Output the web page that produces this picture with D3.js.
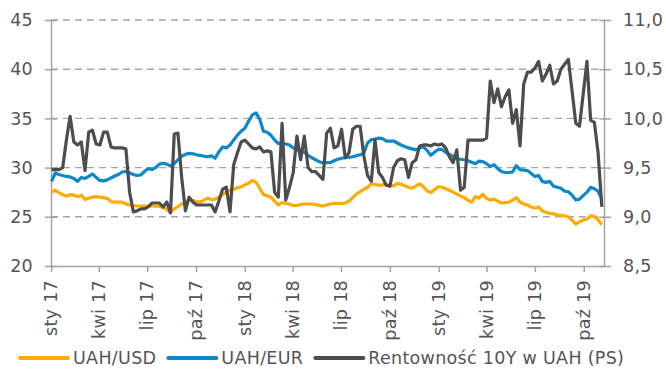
<!DOCTYPE html>
<html>
<head>
<meta charset="utf-8">
<script src="https://cdn.jsdelivr.net/npm/d3@7"></script>
<style>
  body { margin: 0; background: #fff; }
  svg { display: block; }
  text { font-family: "DejaVu Sans", Verdana, sans-serif; fill: #555555; letter-spacing: 0.3px; }
</style>
</head>
<body>
<svg id="chart" width="666" height="372"></svg>
<script>
// Weekly observations, first week starting on this date
const firstWeek = "2017-01-02";

// Quarterly tick marks on the time axis and their labels
const tickDates = ["2017-01-01","2017-04-01","2017-07-01","2017-10-01",
                   "2018-01-01","2018-04-01","2018-07-01","2018-10-01",
                   "2019-01-01","2019-04-01","2019-07-01","2019-10-01"];
const tickLabels = ["sty 17","kwi 17","lip 17","paź 17",
                    "sty 18","kwi 18","lip 18","paź 18",
                    "sty 19","kwi 19","lip 19","paź 19"];

const leftTicks = [20, 25, 30, 35, 40, 45];
const rightTicks = [8.5, 9.0, 9.5, 10.0, 10.5, 11.0];

const seriesNames = ["UAH/USD", "UAH/EUR", "Rentowność 10Y w UAH (PS)"];

// UAH per USD (left axis)
const usd = [
  27.5, 27.7, 27.45, 27.25, 27.1, 27.25, 27.2, 27.05, 27.2, 26.75,
  26.9, 27.0, 27.05, 27.0, 26.95, 26.85, 26.55, 26.5, 26.5, 26.5,
  26.3, 26.2, 26.15, 26.1, 26.1, 26.1, 26.1, 26.1, 26.1, 26.05,
  25.95, 25.75, 25.45, 25.8, 26.05, 26.3, 26.5, 26.7, 26.65, 26.55,
  26.5, 26.7, 26.9, 26.75, 26.8, 27.0, 27.25, 27.5, 27.7, 27.8,
  27.95, 28.05, 28.25, 28.4, 28.7, 28.5, 27.9, 27.25, 27.15, 27.0,
  26.6, 26.2, 26.45, 26.35, 26.3, 26.15, 26.15, 26.25, 26.3, 26.3,
  26.3, 26.25, 26.15, 26.1, 26.2, 26.3, 26.35, 26.35, 26.35, 26.4,
  26.6, 26.95, 27.3, 27.55, 27.8, 28.0, 28.35, 28.3, 28.2, 28.25,
  28.3, 28.2, 28.15, 28.4, 28.3, 28.15, 28.0, 27.9, 28.15, 28.35,
  28.05, 27.65, 27.45, 27.75, 28.05, 28.0, 27.85, 27.7, 27.5, 27.3,
  27.1, 26.95, 26.7, 26.5, 27.05, 26.9, 27.3, 26.85, 26.7, 26.8,
  26.6, 26.4, 26.45, 26.5, 26.7, 26.95, 26.5, 26.3, 26.2, 26.0,
  25.9, 26.0, 25.6, 25.45, 25.35, 25.3, 25.2, 25.15, 25.1, 25.0,
  24.65, 24.25, 24.5, 24.7, 24.75, 25.1, 25.05, 24.7, 24.2
];

// UAH per EUR (left axis)
const eur = [
  28.6, 29.45, 29.3, 29.2, 29.1, 29.05, 28.9, 28.6, 29.0, 28.9,
  29.1, 29.35, 29.0, 28.7, 28.65, 28.75, 28.95, 29.15, 29.3, 29.55,
  29.6, 29.45, 29.3, 29.2, 29.25, 29.6, 29.9, 29.8, 30.0, 30.35,
  30.45, 30.35, 30.15, 30.4, 30.8, 31.15, 31.35, 31.45, 31.4, 31.3,
  31.25, 31.15, 31.1, 31.2, 30.95, 31.6, 32.1, 32.0, 32.3, 32.8,
  33.3, 33.7, 34.0, 34.7, 35.35, 35.55, 34.9, 33.7, 33.6, 33.3,
  32.8, 32.45, 32.45, 32.4, 32.3, 32.0, 31.8, 31.75, 31.55, 31.25,
  31.0, 30.8, 30.6, 30.5, 30.5, 30.5, 30.7, 30.85, 30.95, 31.0,
  31.05, 31.1, 31.2, 31.3, 31.5, 32.5, 32.85, 32.9, 33.0, 32.95,
  32.7, 32.7, 32.7, 32.5, 32.3, 32.15, 32.0, 31.9, 31.8, 32.0,
  32.1, 31.75, 31.25, 31.55, 31.85, 31.85, 31.55, 31.35, 31.15, 30.9,
  30.85, 30.8, 30.7, 30.55, 30.4, 30.65, 30.6, 30.4, 30.1, 30.3,
  29.9, 29.6, 29.5, 29.5, 29.55, 30.2, 29.8, 29.75, 29.7, 29.4,
  29.1, 29.2, 28.6, 28.5, 28.6, 28.1, 28.0, 27.9, 27.6, 27.55,
  27.2, 26.7, 26.8, 27.15, 27.5, 28.0, 27.85, 27.6, 26.8
];

// 10Y UAH bond yield, % (right axis)
const yield10y = [
  9.48, 9.48, 9.48, 9.50, 9.78, 10.02, 9.76, 9.73, 9.76, 9.47,
  9.86, 9.88, 9.74, 9.73, 9.86, 9.86, 9.71, 9.70, 9.70, 9.70,
  9.69, 9.25, 9.05, 9.06, 9.08, 9.08, 9.10, 9.14, 9.14, 9.14,
  9.10, 9.15, 9.04, 9.84, 9.85, 9.40, 9.06, 9.20, 9.15, 9.12,
  9.12, 9.12, 9.12, 9.12, 9.05, 9.16, 9.28, 9.30, 9.05, 9.53,
  9.65, 9.76, 9.78, 9.74, 9.70, 9.69, 9.71, 9.66, 9.67, 9.66,
  9.25, 9.20, 9.95, 9.17, 9.30, 9.45, 9.82, 9.58, 9.82, 9.50,
  9.46, 9.46, 9.42, 9.38, 9.85, 9.90, 9.70, 9.72, 9.89, 9.60,
  9.65, 9.89, 9.92, 9.92, 9.62, 9.42, 9.36, 9.78, 9.45, 9.40,
  9.32, 9.31, 9.50, 9.57, 9.59, 9.58, 9.40, 9.55, 9.58, 9.72,
  9.73, 9.73, 9.72, 9.74, 9.73, 9.74, 9.70, 9.61, 9.55, 9.68,
  9.27, 9.30, 9.78, 9.78, 9.78, 9.78, 9.78, 9.80, 10.38, 10.16,
  10.30, 10.12, 10.22, 10.29, 9.95, 10.09, 9.72, 10.35, 10.47, 10.47,
  10.51, 10.58, 10.38, 10.45, 10.54, 10.35, 10.38, 10.50, 10.55, 10.60,
  10.28, 9.95, 9.92, 10.25, 10.58, 9.98, 9.96, 9.65, 9.10
];

const colors = ["#FFAB00", "#0D89CB", "#4D4D4F"];
const fontSize = "17.5px";

const parse = d3.utcParse("%Y-%m-%d");
const start = parse(firstWeek);
const dates = usd.map((_, i) => d3.utcDay.offset(start, 7 * i));

const svg = d3.select("#chart");
const plotLeft = 51, plotRight = 605, plotTop = 20, plotBottom = 266;

const x = d3.scaleUtc()
  .domain([parse("2017-01-01"), parse("2019-11-10")])
  .range([plotLeft, plotRight]);
const yL = d3.scaleLinear().domain([20, 45]).range([plotBottom, plotTop]);
const yR = d3.scaleLinear().domain([8.5, 11]).range([plotBottom, plotTop]);

const axisColor = "#a3a3a3";

// dashed horizontal gridlines
svg.append("g")
  .selectAll("line")
  .data(leftTicks.filter(d => d > 20))
  .join("line")
  .attr("x1", plotLeft).attr("x2", plotRight)
  .attr("y1", d => yL(d)).attr("y2", d => yL(d))
  .attr("stroke", "#a6a6a6")
  .attr("stroke-width", 1.4)
  .attr("stroke-dasharray", "7,5");

// left axis
const gL = svg.append("g")
  .attr("transform", `translate(${plotLeft},0)`)
  .call(d3.axisLeft(yL).tickValues(leftTicks).tickSize(6).tickPadding(12).tickSizeOuter(0));
gL.selectAll(".tick line").attr("x1", 6);

// right axis
const fmtR = v => d3.format(".1f")(v).replace(".", ",");
const gR = svg.append("g")
  .attr("transform", `translate(${plotRight},0)`)
  .call(d3.axisRight(yR).tickValues(rightTicks).tickFormat(fmtR).tickSize(6).tickPadding(12).tickSizeOuter(0));
gR.selectAll(".tick line").attr("x1", -6);

// bottom axis with rotated labels
const tickDateObjs = tickDates.map(parse);
const gX = svg.append("g")
  .attr("transform", `translate(0,${plotBottom})`)
  .call(d3.axisBottom(x).tickValues(tickDateObjs).tickSize(6).tickSizeOuter(0).tickFormat(""));
gX.selectAll(".tick text").remove();

[gL, gR, gX].forEach(g => {
  g.attr("font-family", null).attr("font-size", null);
  g.select(".domain").attr("stroke", axisColor).attr("stroke-width", 1.5);
  g.selectAll(".tick line").attr("stroke", axisColor).attr("stroke-width", 1.5);
  g.selectAll(".tick text").attr("fill", null).style("font-size", fontSize);
});
gL.select(".domain").attr("d", `M0.5,${plotTop}V${plotBottom}`);
gR.select(".domain").attr("d", `M-0.5,${plotTop}V${plotBottom}`);
gX.select(".domain").attr("d", `M${plotLeft},0.5H${plotRight}`);

svg.append("g")
  .selectAll("text")
  .data(tickDateObjs)
  .join("text")
  .attr("transform", d => `translate(${x(d)},${plotBottom + 14}) rotate(-90)`)
  .attr("text-anchor", "end")
  .attr("dy", "0.35em")
  .style("font-size", fontSize)
  .text((d, i) => tickLabels[i]);

// series lines
const lineL = d3.line().x((d, i) => x(dates[i])).y(d => yL(d));
const lineR = d3.line().x((d, i) => x(dates[i])).y(d => yR(d));

const plot = svg.append("g");
plot.append("path").datum(usd).attr("d", lineL)
  .attr("fill", "none").attr("stroke", colors[0]).attr("stroke-width", 3.2).attr("stroke-linejoin", "round");
plot.append("path").datum(eur).attr("d", lineL)
  .attr("fill", "none").attr("stroke", colors[1]).attr("stroke-width", 3.2).attr("stroke-linejoin", "round");
plot.append("path").datum(yield10y).attr("d", lineR)
  .attr("fill", "none").attr("stroke", colors[2]).attr("stroke-width", 3.2).attr("stroke-linejoin", "round");

// legend
const legend = svg.append("g").attr("transform", "translate(20,358)");
let lx = 0;
seriesNames.forEach((name, i) => {
  legend.append("line")
    .attr("x1", lx).attr("x2", lx + 48).attr("y1", 0).attr("y2", 0)
    .attr("stroke", colors[i]).attr("stroke-width", 4).attr("stroke-linecap", "round");
  const t = legend.append("text")
    .attr("x", lx + 53).attr("dy", "0.35em")
    .style("font-size", fontSize)
    .text(name);
  lx += 53 + t.node().getComputedTextLength() + 12;
});
</script>
</body>
</html>
